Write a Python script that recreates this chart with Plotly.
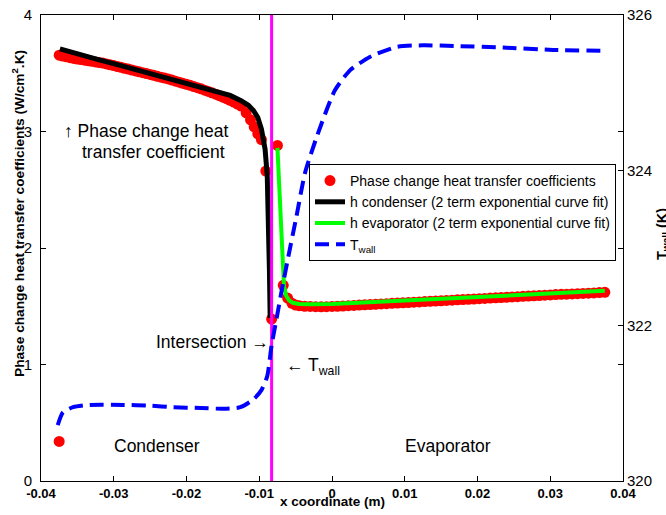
import plotly.graph_objects as go

# ---------------- data ----------------
# Phase change heat transfer coefficients (W/cm^2.K) - measured points
h_cond_x = [-0.0375, -0.0370, -0.0365, -0.0360, -0.0355, -0.0350, -0.0345, -0.0340,
            -0.0335, -0.0330, -0.0325, -0.0320, -0.0315, -0.0310, -0.0305, -0.0300,
            -0.0295, -0.0290, -0.0285, -0.0280, -0.0275, -0.0270, -0.0265, -0.0260,
            -0.0255, -0.0250, -0.0245, -0.0240, -0.0235, -0.0230, -0.0225, -0.0220,
            -0.0215, -0.0210, -0.0205, -0.0200, -0.0195, -0.0190, -0.0185, -0.0180,
            -0.0175, -0.0170, -0.0165, -0.0160, -0.0155, -0.0150, -0.0145, -0.0140,
            -0.0135, -0.0130, -0.0125, -0.0118, -0.0112, -0.0107, -0.0102, -0.0097,
            -0.0091, -0.0083]
h_cond_y = [3.655, 3.648, 3.641, 3.634, 3.627, 3.622, 3.617, 3.612,
            3.607, 3.602, 3.597, 3.592, 3.587, 3.580, 3.573, 3.566,
            3.558, 3.551, 3.543, 3.536, 3.528, 3.520, 3.512, 3.505,
            3.497, 3.490, 3.482, 3.474, 3.466, 3.459, 3.451, 3.442,
            3.432, 3.423, 3.414, 3.405, 3.396, 3.386, 3.376, 3.366,
            3.355, 3.344, 3.332, 3.320, 3.307, 3.295, 3.282, 3.268,
            3.253, 3.236, 3.218, 3.16, 3.10, 3.04, 2.98, 2.93,
            2.66, 1.39]
h_outlier_x = [-0.0375]
h_outlier_y = [0.34]
h_evap_x = [-0.0075, -0.0067, -0.0061, -0.0055, -0.0050,
            -0.0045, -0.00375, -0.0030, -0.00225, -0.0015, -0.00075, 0.0, 0.00075,
            0.0015, 0.00225, 0.0030, 0.00375, 0.0045, 0.00525, 0.0060, 0.00675,
            0.0075, 0.00825, 0.0090, 0.00975, 0.0105, 0.01125, 0.0120, 0.01275,
            0.0135, 0.01425, 0.0150, 0.01575, 0.0165, 0.01725, 0.0180, 0.01875,
            0.0195, 0.02025, 0.0210, 0.02175, 0.0225, 0.02325, 0.0240, 0.02475,
            0.0255, 0.02625, 0.0270, 0.02775, 0.0285, 0.02925, 0.0300, 0.03075,
            0.0315, 0.03225, 0.0330, 0.03375, 0.0345, 0.03525, 0.0360, 0.03675,
            0.0375]
h_evap_y = [2.88, 1.68, 1.57, 1.525, 1.51,
            1.505, 1.500, 1.498, 1.496, 1.495, 1.496, 1.498, 1.500,
            1.502, 1.505, 1.507, 1.510, 1.512, 1.515, 1.517, 1.520,
            1.522, 1.525, 1.527, 1.530, 1.532, 1.535, 1.537, 1.540,
            1.542, 1.545, 1.547, 1.550, 1.552, 1.555, 1.557, 1.560,
            1.562, 1.565, 1.567, 1.570, 1.572, 1.575, 1.577, 1.580,
            1.582, 1.585, 1.587, 1.590, 1.592, 1.595, 1.597, 1.600,
            1.602, 1.604, 1.606, 1.608, 1.610, 1.612, 1.614, 1.617,
            1.620]

# condenser curve fit
fit_cond_x = [-0.0374, -0.0350, -0.0320, -0.0290, -0.0260, -0.0230, -0.0200, -0.0170,
              -0.0140, -0.0125, -0.0115, -0.0108, -0.0102, -0.0097, -0.0092, -0.0089,
              -0.0087, -0.0086, -0.0085]
fit_cond_y = [3.71, 3.665, 3.615, 3.565, 3.515, 3.465, 3.415, 3.365,
              3.31, 3.265, 3.225, 3.18, 3.12, 3.02, 2.85, 2.62,
              2.20, 1.80, 1.40]

# evaporator curve fit
fit_evap_x = [-0.0075, -0.0066, -0.0063, -0.0059, -0.0054, -0.0045, -0.0030, 0.0,
              0.005, 0.010, 0.015, 0.020, 0.025, 0.030, 0.035, 0.0375]
fit_evap_y = [2.86, 1.67, 1.59, 1.55, 1.53, 1.52, 1.518, 1.52,
              1.535, 1.55, 1.565, 1.58, 1.595, 1.61, 1.625, 1.632]

# wall temperature (K)
tw_x = [-0.0377, -0.0370, -0.0356, -0.0333, -0.0287, -0.0250, -0.0219, -0.0180,
        -0.0150, -0.0126, -0.0108, -0.0097, -0.0089, -0.0083, -0.0076, -0.0069,
        -0.0060, -0.0049, -0.0037, -0.0021, 0.0004, 0.0025, 0.0052, 0.0089,
        0.0125, 0.0172, 0.0235, 0.0304, 0.0373]
tw_y = [320.72, 320.88, 320.95, 320.98, 320.98, 320.97, 320.95, 320.94,
        320.93, 320.95, 321.05, 321.17, 321.35, 321.75, 322.10, 322.46,
        322.89, 323.40, 323.97, 324.43, 325.03, 325.29, 325.46, 325.59,
        325.61, 325.60, 325.58, 325.55, 325.54]

# intersection location
x_int = -0.0083

x_ticks = [-0.04, -0.03, -0.02, -0.01, 0, 0.01, 0.02, 0.03, 0.04]
x_tick_text = ["-0.04", "-0.03", "-0.02", "-0.01", "0", "0.01", "0.02", "0.03", "0.04"]
y_ticks = [0, 1, 2, 3, 4]
y2_ticks = [320, 322, 324, 326]

FONT = "Arial, Liberation Sans, sans-serif"

fig = go.Figure()

fig.add_trace(go.Scatter(
    x=h_outlier_x + h_cond_x + h_evap_x,
    y=h_outlier_y + h_cond_y + h_evap_y,
    mode="markers", name="Phase change heat transfer coefficients",
    marker=dict(color="#FF0000", size=11, line=dict(width=0)),
))
fig.add_trace(go.Scatter(
    x=fit_cond_x, y=fit_cond_y, mode="lines",
    name="h condenser (2 term exponential curve fit)",
    line=dict(color="black", width=5),
))
fig.add_trace(go.Scatter(
    x=fit_evap_x, y=fit_evap_y, mode="lines",
    name="h evaporator (2 term exponential curve fit)",
    line=dict(color="#00FF00", width=4),
))
fig.add_trace(go.Scatter(
    x=[x_int, x_int], y=[0, 4], mode="lines", showlegend=False,
    line=dict(color="#FF00FF", width=3), hoverinfo="skip",
))
fig.add_trace(go.Scatter(
    x=tw_x, y=tw_y, mode="lines", name="T<sub>wall</sub>", yaxis="y2",
    line=dict(color="#0000FF", width=4, dash="14px,7px", shape="spline", smoothing=0.6),
))

L, R, T, B = 41, 43, 15, 34
W, H = 666, 515
pw, ph = W - L - R, H - T - B


def px(xp):
    return (xp - L) / pw


def py(yp):
    return (H - B - yp) / ph


ann_font = dict(family=FONT, size=17.5, color="black")
annotations = [
    dict(text="\u2191 Phase change heat", x=px(62), y=py(131), xanchor="left", yanchor="middle"),
    dict(text="transfer coefficient", x=px(80), y=py(152), xanchor="left", yanchor="middle"),
    dict(text="Intersection \u2192", x=px(271), y=py(342), xanchor="right", yanchor="middle"),
    dict(text="\u2190 T<sub>wall</sub>", x=px(284), y=py(366), xanchor="left", yanchor="middle"),
    dict(text="Condenser", x=px(157), y=py(446), xanchor="center", yanchor="middle"),
    dict(text="Evaporator", x=px(448), y=py(446), xanchor="center", yanchor="middle"),
]
for a in annotations:
    a.update(xref="paper", yref="paper", showarrow=False, font=ann_font)

title_font = dict(family=FONT, size=13.7, color="black", weight="bold")
axis_titles = [
    dict(text="x coordinate (m)", x=px(332), y=py(501), xanchor="center", yanchor="middle",
         font=dict(family=FONT, size=13.5, color="black", weight="bold")),
    dict(text="Phase change heat transfer coefficients (W/cm<sup>2</sup>.K)",
         x=px(18), y=py(214), xanchor="center", yanchor="middle", textangle=-90,
         font=title_font),
    dict(text="T<sub>wall</sub> (K)", x=px(663), y=py(234), xanchor="center", yanchor="middle",
         textangle=-90, font=dict(family=FONT, size=14.5, color="black", weight="bold")),
]
for a in axis_titles:
    a.update(xref="paper", yref="paper", showarrow=False)

fig.update_layout(
    width=W, height=H,
    margin=dict(l=L, r=R, t=T, b=B, autoexpand=False),
    paper_bgcolor="white", plot_bgcolor="white",
    font=dict(family=FONT, color="black"),
    showlegend=True,
    legend=dict(x=px(309), y=py(164), xanchor="left", yanchor="top",
                bgcolor="white", bordercolor="black", borderwidth=1,
                font=dict(family=FONT, size=14, color="black"),
                tracegroupgap=0, itemwidth=30),
    xaxis=dict(range=[-0.04, 0.04], tickvals=x_ticks, ticktext=x_tick_text,
               automargin=False,
               showgrid=False, zeroline=False, showline=True, linecolor="black",
               linewidth=1, mirror="ticks", ticks="inside", ticklen=5, tickcolor="black",
               tickfont=dict(family=FONT, size=13, color="black", weight="bold")),
    yaxis=dict(range=[0, 4], tickvals=y_ticks, automargin=False, ticklabelstandoff=5,
               showgrid=False, zeroline=False, showline=True, linecolor="black",
               linewidth=1, mirror="ticks", ticks="inside", ticklen=5, tickcolor="black",
               tickfont=dict(family=FONT, size=15, color="black")),
    yaxis2=dict(range=[320, 326], tickvals=y2_ticks, overlaying="y", side="right",
                automargin=False,
                showgrid=False, zeroline=False, showline=True, linecolor="black",
                linewidth=1, ticks="inside", ticklen=5, tickcolor="black",
                tickfont=dict(family=FONT, size=15, color="black")),
    annotations=annotations + axis_titles,
)

fig.write_html("out.html",
               config={"displayModeBar": False},
               post_script="document.body.style.margin='0px';document.body.style.overflow='hidden';")
